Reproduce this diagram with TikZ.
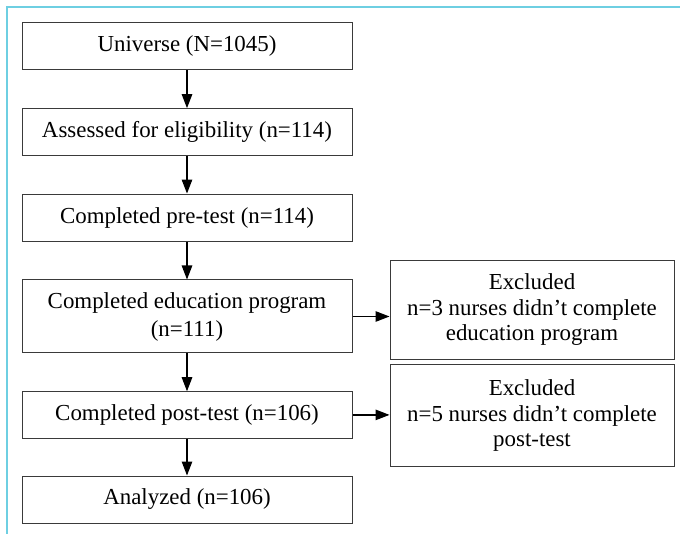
\documentclass[tikz,border=0pt]{standalone}
\usepackage{fontspec}
\setmainfont{Liberation Serif}
\usetikzlibrary{arrows.meta}
\definecolor{frameblue}{HTML}{6ECFE2}
\definecolor{boxline}{HTML}{3A3A3A}
\begin{document}
\begin{tikzpicture}[x=1pt,y=-1pt,
  box/.style={draw=boxline,line width=1pt,inner sep=0pt,align=center,font=\fontsize{22.9}{25.5}\selectfont},
  leftbox/.style={box,minimum width=330pt},
  rightbox/.style={box,minimum width=284pt},
  flow/.style={draw=black,line width=1.2pt,-{Triangle[length=14pt,width=10.5pt]}}]
\useasboundingbox (0,0) rectangle (680,534);
\draw[frameblue,line width=2pt] (7,534) -- (7,7.5) -- (680,7.5);
\node[leftbox,minimum height=47.3pt] (b1) at (187,46.3) {Universe (N=1045)};
\node[leftbox,minimum height=47.3pt] (b2) at (187,132.3) {Assessed for eligibility (n=114)};
\node[leftbox,minimum height=47.7pt] (b3) at (187,217.9) {Completed pre-test (n=114)};
\node[leftbox,minimum height=73pt] (b4) at (187,316.5) {Completed education program\\[2.5pt](n=111)};
\node[leftbox,minimum height=46.3pt] (b5) at (187,414.9) {Completed post-test (n=106)};
\node[leftbox,minimum height=47pt] (b6) at (187,499.5) {Analyzed (n=106)};
\node[rightbox,minimum height=98.3pt] (r1) at (532,309.9) {Excluded\\n=3 nurses didn't complete\\education program};
\node[rightbox,minimum height=101pt] (r2) at (532,415.5) {Excluded\\n=5 nurses didn't complete\\post-test};
\draw[flow] (b1) -- (b2);
\draw[flow] (b2) -- (b3);
\draw[flow] (b3) -- (b4);
\draw[flow] (b4) -- (b5);
\draw[flow] (b5) -- (b6);
\draw[flow] (b4.east) -- (r1.west |- b4.east);
\draw[flow] (b5.east) -- (r2.west |- b5.east);
\end{tikzpicture}
\end{document}
